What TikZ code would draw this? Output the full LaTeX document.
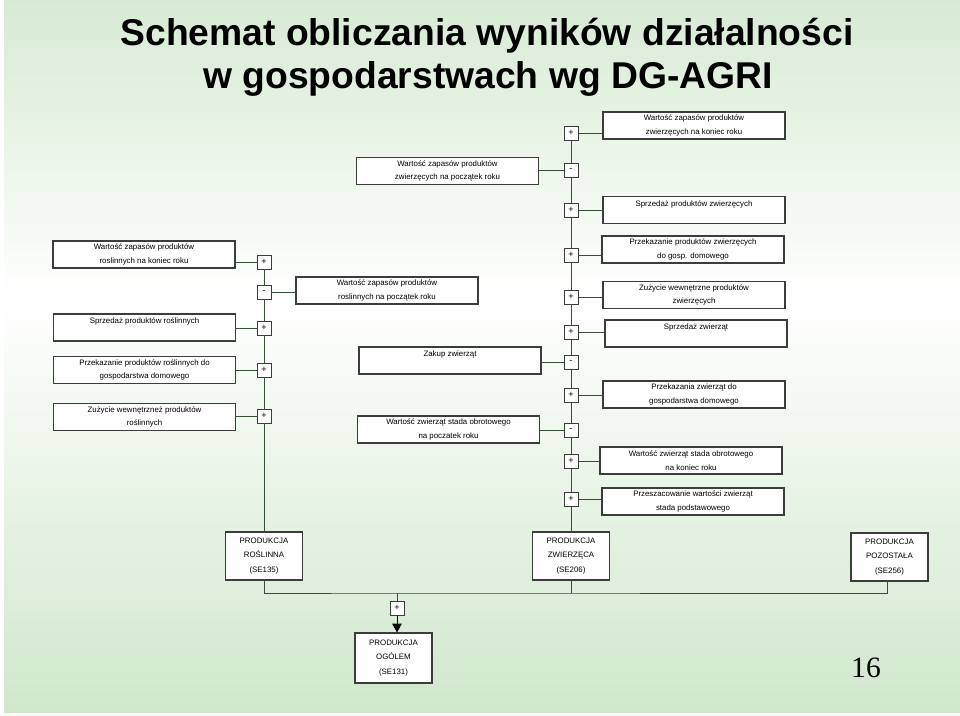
\documentclass[tikz,border=0pt]{standalone}
\usepackage{fontspec}
\setmainfont{Liberation Sans}
\newfontfamily\numfont{Liberation Serif}
\usepackage{tikz}
\usetikzlibrary{positioning,arrows.meta}
\definecolor{bgGreen}{RGB}{208,231,204}
\definecolor{boxGray}{RGB}{60,60,60}
\colorlet{lineGray}{boxGray!90!green}
\tikzset{
  plan/.style={draw=boxGray, fill=white, line width=0.8pt, minimum width=4.55cm, minimum height=0.675cm, inner sep=0pt},
  sgn/.style={draw=boxGray, fill=white, line width=0.7pt, minimum size=0.35cm, inner sep=0pt, font=\fontsize{6.5}{7}\selectfont},
  prod/.style={draw=boxGray, fill=white, line width=0.8pt, minimum width=1.925cm, minimum height=1.2cm, inner sep=0pt, font=\fontsize{5.6}{10}\selectfont},
  link/.style={draw=lineGray, line width=0.7pt}
}

\begin{document}
\begin{tikzpicture}[x=0.025cm, y=-0.025cm, every node/.style={font=\fontsize{5.6}{9.6}\selectfont, align=center}]
        \useasboundingbox (0,0) rectangle (960,716);
        \fill[white] (0,0) rectangle (960,716);
        \fill[top color=bgGreen!85!white, bottom color=white] (4,0) rectangle (960,300);
        \fill[top color=white, bottom color=bgGreen] (4,300) rectangle (960,712);

        \node[font=\fontsize{26.5}{30}\selectfont\bfseries, anchor=base] (title1) at (487,46) {Schemat obliczania wyników działalności};
        \node[font=\fontsize{26.5}{30}\selectfont\bfseries, anchor=base] (title2) at (488,89) {w gospodarstwach wg DG-AGRI};

        \node[sgn] (s1) at (571,133) {+};
        \node[sgn] (s2) at (571,170) {-};
        \node[sgn] (s3) at (571,210) {+};
        \node[sgn] (s4) at (571,255) {+};
        \node[sgn] (s5) at (571,297) {+};
        \node[sgn] (s6) at (571,332) {+};
        \node[sgn] (s7) at (571,362) {-};
        \node[sgn] (s8) at (571,395) {+};
        \node[sgn] (s9) at (571,430) {-};
        \node[sgn] (s10) at (571,461) {+};
        \node[sgn] (s11) at (571,499) {+};

        \node[plan] (zwKoniec) at (694,125.5) {Wartość zapasów produktów\\zwierzęcych na koniec roku};
        \node[plan] (zwPoczatek) at (447.5,171) {Wartość zapasów produktów\\zwierzęcych na początek roku};
        \node[plan] (zwSprzedaz) at (694,210) {Sprzedaż produktów zwierzęcych\\\mbox{}};
        \node[plan] (zwGosp) at (693,249.5) {Przekazanie produktów zwierzęcych\\do gosp. domowego};
        \node[plan] (zwZuzycie) at (694,295) {Zużycie wewnętrzne produktów\\zwierzęcych};
        \node[plan] (zwierzSprzedaz) at (696,333.5) {Sprzedaż zwierząt\\\mbox{}};
        \node[plan] (zwierzZakup) at (450,360.5) {Zakup zwierząt\\\mbox{}};
        \node[plan] (zwierzGosp) at (694,394.5) {Przekazania zwierząt do\\gospodarstwa domowego};
        \node[plan] (stadoPoczatek) at (448.5,429.5) {Wartość zwierząt stada obrotowego\\na poczatek roku};
        \node[plan] (stadoKoniec) at (691,460.5) {Wartość zwierząt stada obrotowego\\na koniec roku};
        \node[plan] (stadoPodst) at (693,501.5) {Przeszacowanie wartości zwierząt\\stada podstawowego};

        \node[sgn] (p1) at (264,262) {+};
        \node[sgn] (p2) at (264,292) {-};
        \node[sgn] (p3) at (264,328) {+};
        \node[sgn] (p4) at (264,370) {+};
        \node[sgn] (p5) at (264,416) {+};

        \node[plan] (rsKoniec) at (144,254.5) {Wartość zapasów produktów\\roslinnych na koniec roku};
        \node[plan] (rsPoczatek) at (387,290.5) {Wartość zapasów produktów\\roslinnych na początek roku};
        \node[plan] (rsSprzedaz) at (144.5,327.5) {Sprzedaż produktów roślinnych\\\mbox{}};
        \node[plan] (rsGosp) at (144.5,370) {Przekazanie produktów roślinnych do\\gospodarstwa domowego};
        \node[plan] (rsZuzycie) at (144.5,417) {Zużycie wewnętrzneż produktów\\roślinnych};

        \node[prod] (prodRosl) at (264,556) {PRODUKCJA\\ROŚLINNA\\(SE135)};
        \node[prod] (prodZwierz) at (571,556) {PRODUKCJA\\ZWIERZĘCA\\(SE206)};
        \node[prod] (prodPozost) at (889.5,557) {PRODUKCJA\\POZOSTAŁA\\(SE256)};
        \node[sgn] (sumSgn) at (397,608) {+};
        \node[prod, minimum height=1.25cm] (prodOgolem) at (393.5,658) {PRODUKCJA\\OGÓLEM\\(SE131)};
        \coordinate (bus) at (397,593);

        \node[font=\numfont\fontsize{21}{25}\selectfont] (pageNo) at (866,668) {16};

        \draw[link] (s1) -- (s2) -- (s3) -- (s4) -- (s5) -- (s6) -- (s7) -- (s8) -- (s9) -- (s10) -- (s11) -- (prodZwierz);
        \draw[link] (s1.east) -- (s1.east -| zwKoniec.west);
        \draw[link] (s2.west) -- (s2.west -| zwPoczatek.east);
        \draw[link] (s3.east) -- (s3.east -| zwSprzedaz.west);
        \draw[link] (s4.east) -- (s4.east -| zwGosp.west);
        \draw[link] (s5.east) -- (s5.east -| zwZuzycie.west);
        \draw[link] (s6.east) -- (s6.east -| zwierzSprzedaz.west);
        \draw[link] (s7.west) -- (s7.west -| zwierzZakup.east);
        \draw[link] (s8.east) -- (s8.east -| zwierzGosp.west);
        \draw[link] (s9.west) -- (s9.west -| stadoPoczatek.east);
        \draw[link] (s10.east) -- (s10.east -| stadoKoniec.west);
        \draw[link] (s11.east) -- (s11.east -| stadoPodst.west);

        \draw[link] (p1) -- (p2) -- (p3) -- (p4) -- (p5) -- (prodRosl);
        \draw[link] (p1.west) -- (p1.west -| rsKoniec.east);
        \draw[link] (p2.east) -- (p2.east -| rsPoczatek.west);
        \draw[link] (p3.west) -- (p3.west -| rsSprzedaz.east);
        \draw[link] (p4.west) -- (p4.west -| rsGosp.east);
        \draw[link] (p5.west) -- (p5.west -| rsZuzycie.east);

        \draw[link] (prodRosl.south) |- (bus) -| ([xshift=-0.05cm]prodPozost.south);
        \draw[link] (prodZwierz.south) -- (prodZwierz.south |- bus);
        \draw[link] (bus) -- (sumSgn);
        \draw[link, -{Triangle[width=0.24cm, length=0.22cm]}, color=black] (sumSgn) -- (sumSgn |- prodOgolem.north);
    \end{tikzpicture}
\end{document}
